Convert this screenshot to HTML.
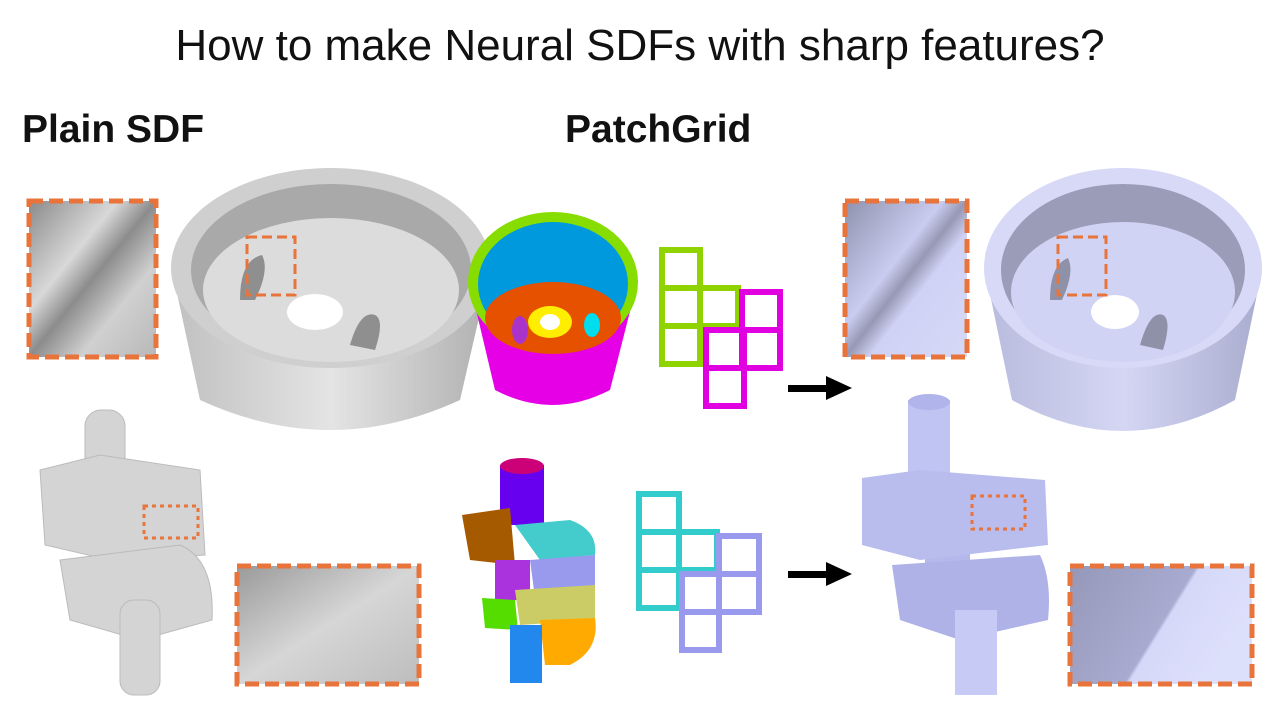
<!DOCTYPE html>
<html><head><meta charset="utf-8"><style>
html,body{margin:0;padding:0;background:#fff;}
svg{display:block;font-family:"Liberation Sans","Noto Sans CJK SC",sans-serif;}
</style></head><body>
<svg width="1280" height="720" viewBox="0 0 1280 720">
<defs>
<linearGradient id="gray1" x1="0" y1="0" x2="1" y2="1"><stop offset="0" stop-color="#8a8a8a"/><stop offset="0.35" stop-color="#d8d8d8"/><stop offset="0.5" stop-color="#8c8c8c"/><stop offset="0.7" stop-color="#d0d0d0"/><stop offset="1" stop-color="#b8b8b8"/></linearGradient>
<linearGradient id="gray2" x1="0" y1="0" x2="1" y2="1"><stop offset="0" stop-color="#9a9a9a"/><stop offset="0.5" stop-color="#d6d6d6"/><stop offset="1" stop-color="#bdbdbd"/></linearGradient>
<linearGradient id="lav1" x1="0" y1="0" x2="1" y2="1"><stop offset="0" stop-color="#8f92ad"/><stop offset="0.4" stop-color="#c9ccef"/><stop offset="0.5" stop-color="#9698b4"/><stop offset="0.6" stop-color="#cfd2f4"/><stop offset="1" stop-color="#d6d8f7"/></linearGradient>
<linearGradient id="lav2" x1="0" y1="0" x2="1" y2="0.4"><stop offset="0" stop-color="#9598b8"/><stop offset="0.6" stop-color="#a8abd0"/><stop offset="0.62" stop-color="#d5d8f8"/><stop offset="1" stop-color="#dde0fb"/></linearGradient>
<linearGradient id="bowlg" x1="0" y1="0" x2="1" y2="0"><stop offset="0" stop-color="#c0c0c0"/><stop offset="0.5" stop-color="#e4e4e4"/><stop offset="1" stop-color="#b0b0b0"/></linearGradient>
<linearGradient id="bowll" x1="0" y1="0" x2="1" y2="0"><stop offset="0" stop-color="#b8bbdc"/><stop offset="0.5" stop-color="#d4d6f4"/><stop offset="1" stop-color="#a9acce"/></linearGradient>
</defs>
<text x="640" y="60" text-anchor="middle" font-size="44" fill="#111">How to make Neural SDFs with sharp features?</text>
<text x="22" y="142" font-size="39" font-weight="bold" fill="#111">Plain SDF</text>
<text x="565" y="142" font-size="39" font-weight="bold" fill="#111">PatchGrid</text>

<g>
<rect x="29" y="201" width="127" height="156" fill="url(#gray1)"/>
<rect x="29" y="201" width="127" height="156" fill="none" stroke="#e8743b" stroke-width="5" stroke-dasharray="14,6"/>
</g>
<g>
<path d="M172 270 L200 400 Q330 460 460 400 L490 270 Z" fill="url(#bowlg)"/>
<ellipse cx="331" cy="268" rx="160" ry="100" fill="#cfcfcf"/>
<ellipse cx="331" cy="270" rx="140" ry="86" fill="#a9a9a9"/>
<ellipse cx="331" cy="290" rx="128" ry="72" fill="#dcdcdc"/>
<ellipse cx="315" cy="312" rx="28" ry="18" fill="#fff"/>
<path d="M350 345 Q360 310 375 315 Q385 320 375 350 Z" fill="#8f8f8f"/>
<path d="M240 300 Q240 260 262 255 Q270 270 255 300 Z" fill="#8f8f8f"/>
<rect x="247" y="237" width="48" height="58" fill="none" stroke="#e8743b" stroke-width="3" stroke-dasharray="10,5"/>
</g>
<g fill="#d4d4d4" stroke="#bbb">
<rect x="85" y="410" width="40" height="90" rx="16"/>
<rect x="100" y="480" width="40" height="120" fill="#cacaca" stroke="none"/>
<path d="M40 470 L100 455 L200 470 L205 555 L110 560 L45 545 Z"/>
<path d="M60 560 L180 545 Q215 560 212 620 L140 640 L70 620 Z"/>
<rect x="120" y="600" width="40" height="95" rx="14"/>
<rect x="144" y="506" width="54" height="32" fill="none" stroke="#e8743b" stroke-width="3" stroke-dasharray="4,4"/>
</g>
<g>
<rect x="237" y="566" width="182" height="118" fill="url(#gray2)"/>
<rect x="237" y="566" width="182" height="118" fill="none" stroke="#e8743b" stroke-width="5" stroke-dasharray="14,6"/>
</g>

<g>
<path d="M469 280 L495 390 Q552 420 610 390 L638 280 Z" fill="#e600e6"/>
<ellipse cx="553" cy="282" rx="85" ry="70" fill="#88dd00"/>
<ellipse cx="553" cy="284" rx="75" ry="62" fill="#0099dd"/>
<ellipse cx="553" cy="318" rx="68" ry="36" fill="#e65100"/>
<ellipse cx="550" cy="322" rx="22" ry="16" fill="#ffee00"/>
<ellipse cx="550" cy="322" rx="10" ry="8" fill="#fff"/>
<ellipse cx="520" cy="330" rx="8" ry="14" fill="#aa33cc"/>
<ellipse cx="592" cy="325" rx="8" ry="12" fill="#00ddee"/>
</g>
<g fill="none" stroke-width="6" stroke="#8fd400">
<rect x="662" y="250" width="38" height="38"/><rect x="662" y="288" width="38" height="38"/><rect x="700" y="288" width="38" height="38"/><rect x="662" y="326" width="38" height="38"/>
</g>
<g fill="none" stroke-width="6" stroke="#e000e0">
<rect x="742" y="292" width="38" height="38"/><rect x="706" y="330" width="38" height="38"/><rect x="742" y="330" width="38" height="38"/><rect x="706" y="368" width="38" height="38"/>
</g>
<g fill="none" stroke-width="6" stroke="#33cccc">
<rect x="639" y="494" width="40" height="38"/><rect x="639" y="532" width="40" height="38"/><rect x="679" y="532" width="38" height="38"/><rect x="639" y="570" width="40" height="38"/>
</g>
<g fill="none" stroke-width="6" stroke="#9999ee">
<rect x="719" y="536" width="40" height="38"/><rect x="682" y="574" width="37" height="38"/><rect x="719" y="574" width="40" height="38"/><rect x="682" y="612" width="37" height="38"/>
</g>
<g>
<rect x="500" y="465" width="44" height="60" fill="#6600ee"/><ellipse cx="522" cy="466" rx="22" ry="8" fill="#cc0077"/>
<path d="M462 515 L510 508 L515 565 L470 560 Z" fill="#a55a00"/>
<path d="M515 525 L570 520 Q598 530 595 555 L540 560 Z" fill="#44cccc"/>
<path d="M530 560 L595 555 L595 595 L535 598 Z" fill="#9999ee"/>
<rect x="495" y="560" width="35" height="40" fill="#aa33dd"/>
<path d="M482 598 L515 600 L518 630 L485 628 Z" fill="#55dd00"/>
<path d="M515 590 L595 585 L595 620 L520 625 Z" fill="#cccc66"/>
<path d="M540 620 L595 618 Q600 650 570 665 L545 665 Z" fill="#ffaa00"/>
<rect x="510" y="625" width="32" height="58" fill="#2288ee"/>
</g>
<g><rect x="788" y="385" width="40" height="7" fill="#000"/><path d="M826 376 L852 388 L826 400 Z" fill="#000"/></g>
<g><rect x="788" y="571" width="40" height="7" fill="#000"/><path d="M826 562 L852 574 L826 586 Z" fill="#000"/></g>

<g>
<rect x="845" y="201" width="122" height="156" fill="url(#lav1)"/>
<rect x="845" y="201" width="122" height="156" fill="none" stroke="#e8743b" stroke-width="5" stroke-dasharray="14,6"/>
</g>
<g>
<path d="M985 270 L1012 400 Q1123 462 1235 400 L1262 270 Z" fill="url(#bowll)"/>
<ellipse cx="1123" cy="268" rx="139" ry="100" fill="#d7d9f7"/>
<ellipse cx="1123" cy="270" rx="122" ry="86" fill="#9a9cb8"/>
<ellipse cx="1123" cy="292" rx="112" ry="70" fill="#d0d3f3"/>
<ellipse cx="1115" cy="312" rx="24" ry="17" fill="#fff"/>
<path d="M1140 345 Q1150 310 1163 315 Q1172 320 1163 350 Z" fill="#8f91a8"/>
<path d="M1050 300 Q1050 265 1068 258 Q1075 272 1062 300 Z" fill="#8f91a8"/>
<rect x="1058" y="237" width="48" height="58" fill="none" stroke="#e8743b" stroke-width="3" stroke-dasharray="10,5"/>
</g>
<g fill="#b9bdee">
<rect x="908" y="400" width="42" height="110" fill="#c0c4f2"/><ellipse cx="929" cy="402" rx="21" ry="8" fill="#b0b4ea"/>
<rect x="925" y="500" width="45" height="120" fill="#b4b8ea"/>
<path d="M862 478 L920 470 L1045 480 L1048 545 L920 560 L862 545 Z"/>
<path d="M892 565 L1040 555 Q1052 580 1048 620 L960 640 L900 620 Z" fill="#aeb2e6"/>
<rect x="955" y="610" width="42" height="85" fill="#c6caf4"/>
<rect x="972" y="496" width="53" height="33" fill="none" stroke="#e8743b" stroke-width="3" stroke-dasharray="4,4"/>
</g>
<g>
<rect x="1070" y="566" width="182" height="118" fill="url(#lav2)"/>
<rect x="1070" y="566" width="182" height="118" fill="none" stroke="#e8743b" stroke-width="5" stroke-dasharray="14,6"/>
</g>
</svg>
</body></html>
